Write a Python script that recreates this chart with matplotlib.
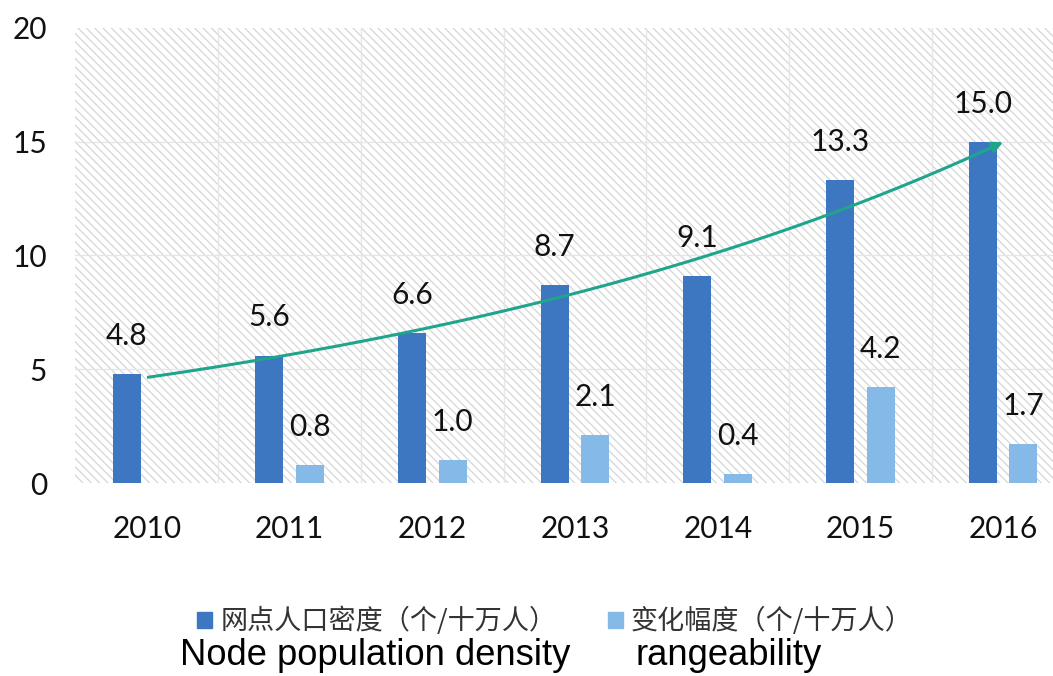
import numpy as np
import matplotlib
matplotlib.use("Agg")
import matplotlib.pyplot as plt
from matplotlib.patches import Rectangle, Patch

# Data
years = ["2010", "2011", "2012", "2013", "2014", "2015", "2016"]
density = [4.8, 5.6, 6.6, 8.7, 9.1, 13.3, 15.0]          # 网点人口密度
change = [None, 0.8, 1.0, 2.1, 0.4, 4.2, 1.7]            # 变化幅度
density_label = "网点人口密度（个/十万人）"
change_label = "变化幅度（个/十万人）"
density_en = "Node population density"
change_en = "rangeability"
y_ticks = [0, 5, 10, 15, 20]

DARK = "#3d76c1"
LIGHT = "#84b9e8"
TREND = "#1fa58c"
NUM_FONT = ["Lato", "DejaVu Sans"]
CJK_FONT = ["Noto Sans CJK SC", "DejaVu Sans"]
NUM_SIZE = 21.5
NUM_COLOR = "#111111"

plt.rcParams["hatch.linewidth"] = 0.9

fig = plt.figure(figsize=(10.53, 6.76), dpi=100)
ax = fig.add_axes([0.0712, 0.2855, 0.9288, 0.6731])

x = np.arange(len(years))
w = 0.196
off = 0.142

# hatched plot background
ax.set_facecolor("white")
ax.add_patch(Rectangle((0, 0), 1, 1, transform=ax.transAxes, facecolor="white",
                       edgecolor="#d6d6d6", hatch="\\\\\\\\", linewidth=0, zorder=0))
for yv in y_ticks[1:-1]:
    ax.axhline(yv, color="#e6e6e6", lw=1.0, zorder=0.5)
for xv in np.arange(0.5, len(years) - 0.5, 1.0):
    ax.axvline(xv, color="#e6e6e6", lw=1.0, zorder=0.5)

# bars
ax.bar(x - off, density, width=w, color=DARK, zorder=2)
cx = [xi for xi, v in zip(x, change) if v is not None]
cv = [v for v in change if v is not None]
ax.bar(np.array(cx) + off, cv, width=w, color=LIGHT, zorder=2)

# value labels
for xi, v in zip(x, density):
    ax.annotate(f"{v:.1f}", (xi - off, v), xytext=(0, 21), textcoords="offset points",
                ha="center", va="baseline", fontsize=NUM_SIZE, family=NUM_FONT,
                color=NUM_COLOR, zorder=4)
for xi, v in zip(cx, cv):
    ax.annotate(f"{v:.1f}", (xi + off, v), xytext=(0, 21), textcoords="offset points",
                ha="center", va="baseline", fontsize=NUM_SIZE, family=NUM_FONT,
                color=NUM_COLOR, zorder=4)

# exponential trend line of the density series
k, b = np.polyfit(x, np.log(density), 1)
xs = np.linspace(0, len(years) - 1, 200)
ys = np.exp(k * xs + b)
ax.plot(xs[:-3], ys[:-3], color=TREND, lw=2.2, zorder=3, solid_capstyle="butt")
ax.annotate("", xy=(xs[-1], ys[-1]), xytext=(xs[-6], ys[-6]),
            arrowprops=dict(arrowstyle="-|>", color=TREND, lw=2.2,
                            mutation_scale=16, shrinkA=0, shrinkB=0), zorder=3)

# axes
ax.set_xlim(-0.505, 6.35)
ax.set_ylim(0, 20)
ax.set_yticks(y_ticks)
ax.set_xticks(x)
ax.set_xticklabels(years)
for s in ax.spines.values():
    s.set_visible(False)
ax.tick_params(axis="both", length=0, labelsize=NUM_SIZE, labelcolor=NUM_COLOR)
ax.tick_params(axis="x", pad=23)
ax.tick_params(axis="y", pad=20)
for lab in ax.get_xticklabels() + ax.get_yticklabels():
    lab.set_family(NUM_FONT)

# legend
handles = [Patch(color=DARK), Patch(color=LIGHT)]
fig.legend(handles, [density_label, change_label], ncol=2, loc="center",
           bbox_to_anchor=(0.527, 0.081), frameon=False,
           prop=dict(family=CJK_FONT, size=19.5),
           handlelength=0.55, handleheight=0.55, handletextpad=0.3,
           columnspacing=1.9, labelcolor="#333333")

fig.text(180 / 1053, 0.0163, density_en, family=["Liberation Sans", "DejaVu Sans"],
         fontsize=26.2, color="black", va="baseline", ha="left")
fig.text(635 / 1053, 0.0163, change_en, family=["Liberation Sans", "DejaVu Sans"],
         fontsize=26.2, color="black", va="baseline", ha="left")

fig.savefig("out.png", dpi=100)
